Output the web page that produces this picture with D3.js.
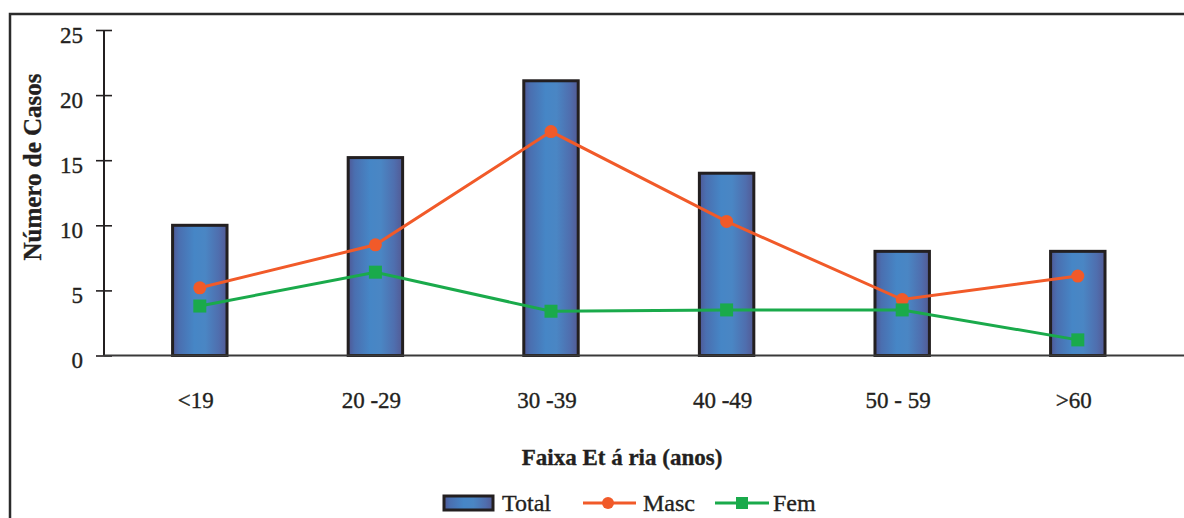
<!DOCTYPE html>
<html>
<head>
<meta charset="utf-8">
<script src="https://cdn.jsdelivr.net/npm/d3@7/dist/d3.min.js"></script>
<style>
  html, body { margin: 0; padding: 0; background: #ffffff; }
  svg { display: block; }
  svg text { font-family: "Liberation Serif", "DejaVu Serif", serif; fill: #231f20; stroke: #231f20; stroke-width: 0.35px; }
</style>
</head>
<body>
<svg id="chart" width="1184" height="518"></svg>
<script>
// Casos por faixa etária
const categories = ["<19", "20-29", "30-39", "40-49", "50-59", ">60"];
const categoryLabels = ["<19", "20 -29", "30 -39", "40 -49", "50 - 59", ">60"];
const totalValues = [10, 15.2, 21.1, 14, 8, 8];
const mascValues = [5.2, 8.5, 17.2, 10.3, 4.3, 6.1];
const femValues = [3.8, 6.4, 3.4, 3.5, 3.5, 1.2];
const yTicks = [0, 5, 10, 15, 20, 25];

const svg = d3.select("#chart");
const W = 1184, H = 518;
const ink = "#231f20";
const orange = "#f15a29";
const green = "#1aaa4b";
const serif = "'Liberation Serif', 'DejaVu Serif', serif";

// frame around the chart area
svg.append("path")
  .attr("d", `M10,${H + 5} L10,14 L${W + 5},14`)
  .attr("fill", "none").attr("stroke", "#2b2b2b").attr("stroke-width", 2.5);

const x = d3.scaleBand().domain(categories).range([112, 1165.6]).paddingInner(0.69).paddingOuter(0.345);
const y = d3.scaleLinear().domain([0, 25]).range([355.5, 30]);

// bar gradient: darker violet-blue edges, brighter blue middle
const defs = svg.append("defs");
const grad = defs.append("linearGradient").attr("id", "barGrad")
  .attr("x1", "0%").attr("x2", "100%").attr("y1", "0%").attr("y2", "0%");
[[0, "#4f5896"], [0.12, "#4a6fb0"], [0.4, "#4686c6"], [0.6, "#4a86c4"], [0.85, "#4f6eae"], [1, "#535a94"]]
  .forEach(([o, c]) => grad.append("stop").attr("offset", o).attr("stop-color", c));

// y axis
const yAxis = d3.axisLeft(y).tickValues(yTicks).tickSize(0).tickPadding(0);
const gy = svg.append("g").attr("transform", "translate(104,0)").call(yAxis)
  .attr("font-family", serif).attr("font-size", 23);
gy.select(".domain").remove();
gy.selectAll(".tick text")
  .attr("x", -21).attr("y", 4).attr("dy", "0.35em")
  .attr("font-family", serif).attr("font-size", 23).attr("fill", ink);
gy.selectAll(".tick").append("line")
  .attr("x1", -8).attr("x2", 8).attr("stroke", ink).attr("stroke-width", 1.6);
svg.append("line").attr("x1", 104).attr("x2", 104).attr("y1", y(25)).attr("y2", y(0))
  .attr("stroke", ink).attr("stroke-width", 2);

// bars
svg.append("g").selectAll("rect").data(categories).join("rect")
  .attr("x", d => x(d))
  .attr("width", x.bandwidth())
  .attr("y", (d, i) => y(totalValues[i]))
  .attr("height", (d, i) => y(0) - y(totalValues[i]))
  .attr("fill", "url(#barGrad)")
  .attr("stroke", ink).attr("stroke-width", 3);

// x baseline
svg.append("line").attr("x1", 104).attr("x2", W).attr("y1", y(0)).attr("y2", y(0))
  .attr("stroke", "#3a3a3a").attr("stroke-width", 1.8);

// x axis labels
const xAxis = d3.axisBottom(x).tickSize(0).tickPadding(0).tickFormat((d, i) => categoryLabels[i]);
const gx = svg.append("g").attr("transform", `translate(0,${y(0)})`).call(xAxis)
  .attr("font-family", serif).attr("font-size", 23);
gx.select(".domain").remove();
gx.selectAll(".tick text")
  .attr("x", -4).attr("y", 44).attr("dy", "0.35em")
  .attr("font-family", serif).attr("font-size", 23).attr("fill", ink);

const cx = d => x(d) + x.bandwidth() / 2;

// lines
const lineGen = vals => d3.line().x(d => cx(d)).y((d, i) => y(vals[i]))(categories);
svg.append("path").attr("d", lineGen(mascValues))
  .attr("fill", "none").attr("stroke", orange).attr("stroke-width", 3);
svg.append("path").attr("d", lineGen(femValues))
  .attr("fill", "none").attr("stroke", green).attr("stroke-width", 3);

// markers
svg.append("g").selectAll("circle").data(categories).join("circle")
  .attr("cx", d => cx(d)).attr("cy", (d, i) => y(mascValues[i])).attr("r", 6.5)
  .attr("fill", orange);
svg.append("g").selectAll("rect").data(categories).join("rect")
  .attr("x", d => cx(d) - 6.5).attr("y", (d, i) => y(femValues[i]) - 6.5)
  .attr("width", 13).attr("height", 13).attr("fill", green);

// axis titles
svg.append("text")
  .attr("transform", "translate(41,167) rotate(-90)")
  .attr("text-anchor", "middle")
  .attr("font-size", 25).attr("font-weight", "bold")
  .text("Número de Casos");

svg.append("text")
  .attr("x", 622).attr("y", 465)
  .attr("text-anchor", "middle")
  .attr("font-size", 23).attr("font-weight", "bold")
  .text("Faixa Et á ria (anos)");

// legend
const lg = svg.append("g");
const ly = 503;
lg.append("rect").attr("x", 444).attr("y", ly - 7).attr("width", 49).attr("height", 14)
  .attr("fill", "url(#barGrad)").attr("stroke", ink).attr("stroke-width", 3);
lg.append("text").attr("x", 502).attr("y", ly).attr("dy", "0.35em").attr("font-size", 24).text("Total");

lg.append("line").attr("x1", 583).attr("x2", 636).attr("y1", ly).attr("y2", ly)
  .attr("stroke", orange).attr("stroke-width", 3);
lg.append("circle").attr("cx", 608).attr("cy", ly).attr("r", 6).attr("fill", orange);
lg.append("text").attr("x", 643).attr("y", ly).attr("dy", "0.35em").attr("font-size", 24).text("Masc");

lg.append("line").attr("x1", 715).attr("x2", 769).attr("y1", ly).attr("y2", ly)
  .attr("stroke", green).attr("stroke-width", 3);
lg.append("rect").attr("x", 736).attr("y", ly - 6).attr("width", 12).attr("height", 12).attr("fill", green);
lg.append("text").attr("x", 773).attr("y", ly).attr("dy", "0.35em").attr("font-size", 24).text("Fem");
</script>
</body>
</html>
